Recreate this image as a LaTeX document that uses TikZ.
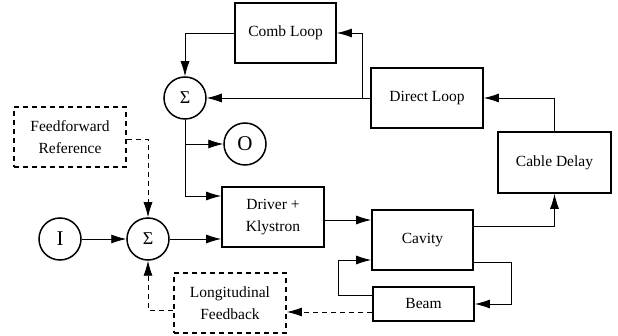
\documentclass[tikz,border=0pt]{standalone}
\usepackage{fontspec}
\setmainfont{Liberation Serif}
\usetikzlibrary{arrows.meta}
\begin{document}
\begin{tikzpicture}[x=1pt,y=-1pt,
  box/.style={draw,line width=1.8pt,inner sep=0pt,align=center,font=\fontsize{15.5}{22}\selectfont},
  dbox/.style={box,dash pattern=on 5pt off 4pt},
  circ/.style={draw,circle,line width=1.5pt,minimum size=42pt,inner sep=0pt,font=\fontsize{21}{24}\selectfont},
  sumc/.style={circ,font=\fontsize{18}{22}\selectfont},
  arr/.style={line width=0.8pt,-{Latex[length=15pt,width=9pt]}},
  darr/.style={arr,dash pattern=on 5pt off 4pt}]
\useasboundingbox (0,0) rectangle (618,336);
\node[box,minimum width=101pt,minimum height=60pt] (comb) at (285.5,33) {Comb Loop};
\node[box,minimum width=112pt,minimum height=60pt] (direct) at (427,98) {Direct Loop};
\node[box,minimum width=113pt,minimum height=61pt] (cable) at (554.5,162.5) {Cable Delay};
\node[box,minimum width=101pt,minimum height=60pt] (cavity) at (422.5,240) {Cavity};
\node[box,minimum width=101pt,minimum height=34pt] (beam) at (423.5,304) {Beam};
\node[box,minimum width=102pt,minimum height=60pt] (driver) at (273,217) {Driver +\\Klystron};
\node[dbox,minimum width=112pt,minimum height=60pt] (ff) at (70,137) {Feedforward\\Reference};
\node[dbox,minimum width=112pt,minimum height=60pt] (lf) at (230,303) {Longitudinal\\Feedback};
\node[sumc] (sumt) at (185,98) {Σ};
\node[sumc] (sumb) at (148,239) {Σ};
\node[circ] (o) at (245,144) {O};
\node[circ] (i) at (60,239) {I};
\coordinate (j1) at (362,98);
\coordinate (j2) at (185,144);
\draw[arr] (comb.west) -| (sumt.north);
\draw[arr] (direct.west) -- (sumt.east);
\draw[arr] (j1) |- (comb.east);
\draw[arr] (cable.north) |- (direct.east);
\draw[arr] (cavity.east |- 0,226) -| (cable.south);
\draw[arr] (cavity.east |- 0,262) -- (511,262) |- (beam.east);
\draw[arr] (beam.west |- 0,295) -- (338,295) |- (cavity.west |- 0,260);
\draw[arr] (driver.east |- 0,220) -- (cavity.west |- 0,220);
\draw[darr] (beam.west |- 0,312) -- (lf.east |- 0,312);
\draw[darr] (lf.west |- 0,310) -| (sumb.south);
\draw[darr] (ff.east |- 0,139) -| (sumb.north);
\draw[arr] (sumt.south) |- (driver.west |- 0,196);
\draw[arr] (j2) -- (o.west);
\draw[arr] (i) -- (sumb);
\draw[arr] (sumb) -- (driver.west |- sumb);
\end{tikzpicture}
\end{document}
